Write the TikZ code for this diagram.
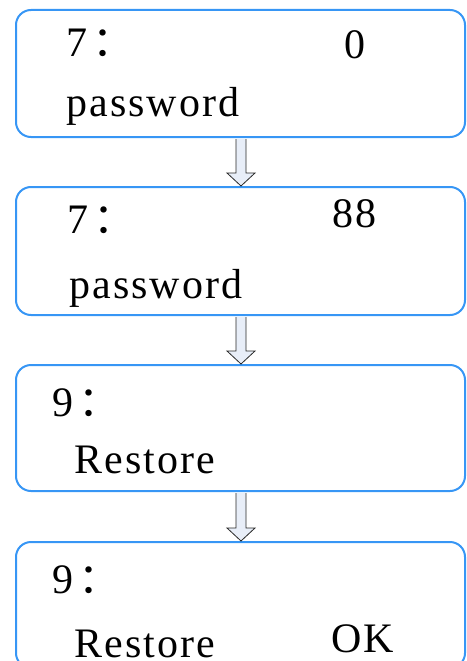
\documentclass[tikz,border=0pt]{standalone}
\usepackage{fontspec}
\setmainfont[LetterSpace=5]{Liberation Serif}
\newfontfamily\cjk{Noto Sans CJK SC}
\usetikzlibrary{calc}
\definecolor{boxblue}{RGB}{55,150,245}
\definecolor{arrfill}{RGB}{232,238,248}
\definecolor{arrline}{RGB}{40,40,40}
\newcommand\wcolon{\kern5pt{\cjk ：}}
\tikzset{
  panel/.style={draw=boxblue, line width=2pt, rounded corners=15pt, inner sep=0pt},
  txt/.style={anchor=base west, inner sep=0pt, font=\fontsize{42}{42}\selectfont},
  arrbody/.style={fill=arrfill},
  arredge/.style={draw=arrline, line width=0.8pt, line join=miter}
}
\newcommand\hollowdown[2]{%
  \fill[arrbody] let \p1=(#1.south), \p2=(#2.north) in
    (236pt,\y1-1pt) -- (236pt,\y2+13pt) -- (227pt,\y2+13pt) -- (241pt,\y2) -- (255pt,\y2+13pt) -- (246pt,\y2+13pt) -- (246pt,\y1-1pt) -- cycle;
  \draw[arredge] let \p1=(#1.south), \p2=(#2.north) in
    (236pt,\y1-1pt) -- (236pt,\y2+13pt) -- (227pt,\y2+13pt) -- (241pt,\y2) -- (255pt,\y2+13pt) -- (246pt,\y2+13pt) -- (246pt,\y1-1pt);
}
\begin{document}
\begin{tikzpicture}[x=1pt,y=-1pt]
\useasboundingbox (0,0) rectangle (466,661);
\begin{scope}
\clip (0,0) rectangle (466,661);
\node[panel, minimum width=449pt, minimum height=127pt] (b1) at (240.5,73.5) {};
\node[panel, minimum width=449pt, minimum height=128pt] (b2) at (240.5,251) {};
\node[panel, minimum width=449pt, minimum height=126pt] (b3) at (240.5,428) {};
\node[panel, minimum width=449pt, minimum height=126pt] (b4) at (240.5,605) {};
\end{scope}
\hollowdown{b1}{b2}
\hollowdown{b2}{b3}
\hollowdown{b3}{b4}
% box 1
\node[txt] (t1a) at (66,57) {7\wcolon};
\node[txt] (t1b) at (344,59) {0};
\node[txt] (t1c) at (66,116) {password};
% box 2
\node[txt] (t2a) at (67,233) {7\wcolon};
\node[txt] (t2b) at (332,227) {88};
\node[txt] (t2c) at (69,298) {password};
% box 3
\node[txt] (t3a) at (52,416) {9\wcolon};
\node[txt] (t3b) at (74,473) {Restore};
% box 4
\node[txt] (t4a) at (52,593) {9\wcolon};
\node[txt] (t4b) at (74,657) {Restore};
\node[txt] (t4c) at (331,652) {OK};
\end{tikzpicture}
\end{document}
